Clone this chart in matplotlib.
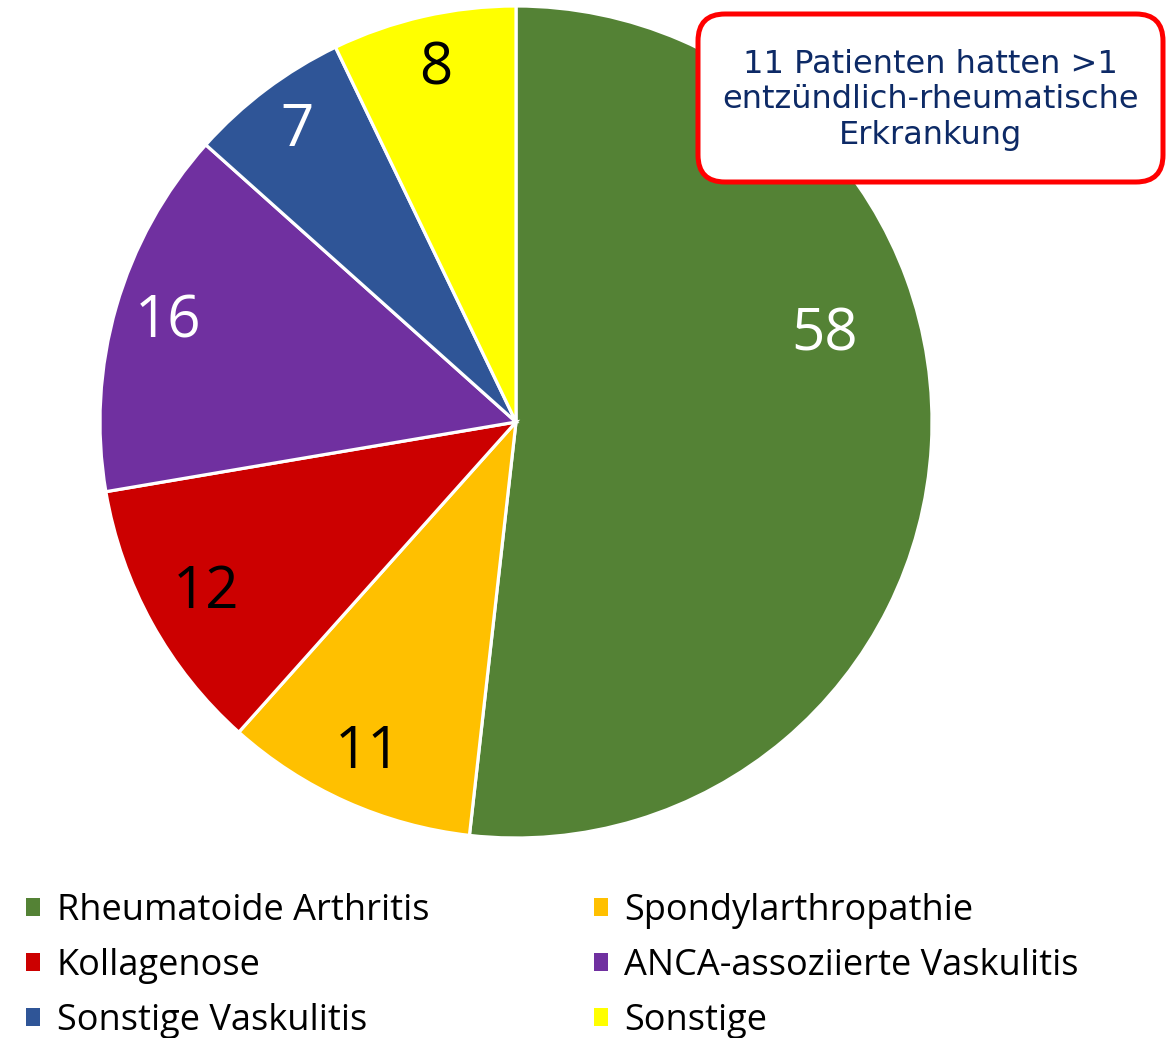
import matplotlib
matplotlib.use("Agg")
import numpy as np
import matplotlib.pyplot as plt
from matplotlib.patches import FancyBboxPatch, Patch

# Werte aus dem Diagramm
categories = ['Rheumatoide Arthritis', 'Spondylarthropathie', 'Kollagenose',
              'ANCA-assoziierte Vaskulitis', 'Sonstige Vaskulitis', 'Sonstige']
counts = [58, 11, 12, 16, 7, 8]
colors = ['#548235', '#FFC000', '#CC0000', '#7030A0', '#2F5597', '#FFFF00']
label_colors = ['white', 'black', 'black', 'white', 'white', 'black']
note = '11 Patienten hatten >1\nentzündlich-rheumatische\nErkrankung'

sans = ['Open Sans', 'DejaVu Sans']

W, H = 1171, 1038
fig = plt.figure(figsize=(W / 100, H / 100), dpi=100)
fig.patch.set_facecolor('white')

# pie axes: centre (516, 422) px, radius 416 px
cx, cy, r = 516, 422, 416
ax = fig.add_axes([(cx - r) / W, (H - cy - r) / H, 2 * r / W, 2 * r / H])
wedges, _ = ax.pie(counts, colors=colors, startangle=90, counterclock=False,
                   radius=1.0, wedgeprops=dict(edgecolor='white', linewidth=2.3))
ax.set_xlim(-1, 1)
ax.set_ylim(-1, 1)
ax.set_aspect('equal')
ax.axis('off')

# label placement (distance from centre, angular shift) like the Excel best-fit
lab_dist = [0.77, 0.87, 0.85, 0.87, 0.875, 0.87]
lab_shift = [19, 0, 0, 0, 0, 0]
for w, n, c, d, s in zip(wedges, counts, label_colors, lab_dist, lab_shift):
    ang = np.deg2rad((w.theta1 + w.theta2) / 2 + s)
    ax.text(d * np.cos(ang), d * np.sin(ang), str(n), ha='center', va='center',
            fontsize=42, color=c, family=sans)

# note box top right
x0, x1 = (698 - cx) / r, (1163 - cx) / r
y0, y1 = (cy - 182) / r, (cy - 14) / r
box = FancyBboxPatch((x0, y0), x1 - x0, y1 - y0,
                     boxstyle='round,pad=0,rounding_size=0.065',
                     facecolor='white', edgecolor='#FF0000', linewidth=3.6,
                     clip_on=False, zorder=5)
ax.add_patch(box)
ax.text((x0 + x1) / 2, (cy - 100) / r, note, ha='center', va='center',
        fontsize=23, color='#0D2A66', linespacing=1.2, zorder=6,
        family='DejaVu Sans', clip_on=False)

# legend, row-major order like the original
handles = [Patch(facecolor=c, edgecolor='none') for c in colors]
order = [0, 2, 4, 1, 3, 5]
fig.legend([handles[i] for i in order], [categories[i] for i in order],
           ncol=2, loc='upper left', bbox_to_anchor=(26 / W, 1 - 893 / H),
           frameon=False, prop={'family': sans, 'size': 26},
           handlelength=0.4, handleheight=0.4, handletextpad=0.45,
           columnspacing=4.55, labelspacing=0.52, borderpad=0, borderaxespad=0)

fig.savefig('out.png', dpi=100)
